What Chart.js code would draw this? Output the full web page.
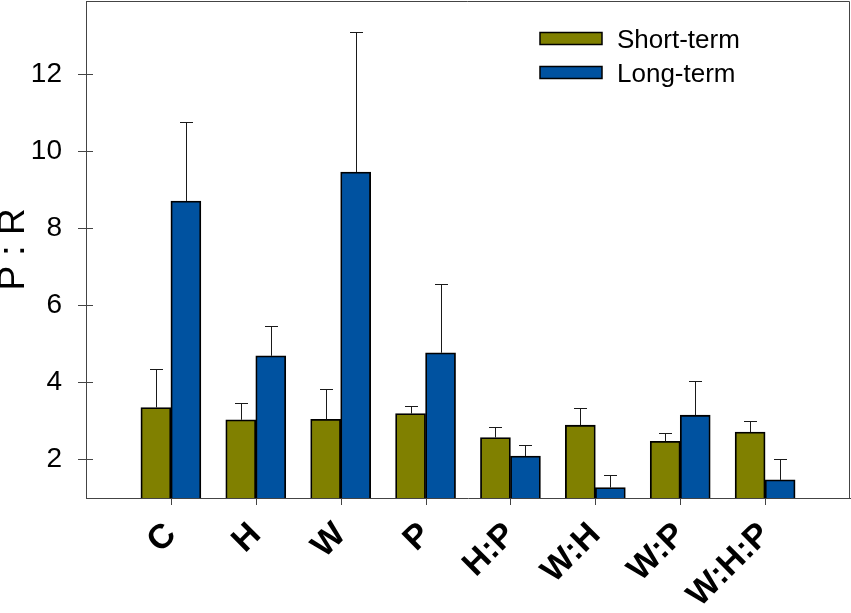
<!DOCTYPE html>
<html>
<head>
<meta charset="utf-8">
<script src="https://cdn.jsdelivr.net/npm/chart.js@4.4.1/dist/chart.umd.min.js"></script>
<style>
  html, body { margin: 0; padding: 0; background: #ffffff; }
  #wrap { width: 851px; height: 613px; }
</style>
</head>
<body>
<div id="wrap"><canvas id="c" width="851" height="613"></canvas></div>
<script>
// ---- data ----
const categories = ['C', 'H', 'W', 'P', 'H:P', 'W:H', 'W:P', 'W:H:P'];
const shortTerm = [3.35, 3.03, 3.04, 3.19, 2.57, 2.89, 2.47, 2.71];
const longTerm  = [8.71, 4.69, 9.46, 4.77, 2.09, 1.27, 3.15, 1.47];
const shortErr  = [1.00, 0.44, 0.78, 0.21, 0.28, 0.45, 0.22, 0.30];
const longErr   = [2.04, 0.78, 3.63, 1.78, 0.28, 0.33, 0.89, 0.54];
const yTicks = [2, 4, 6, 8, 10, 12];
const yMin = 1;
const yMax = 13.9;
const seriesNames = ['Short-term', 'Long-term'];

// padded category axis (one empty slot at each end)
const labels = [''].concat(categories, ['']);
const pad = (arr) => [null].concat(arr, [null]);
const errs = [pad(shortErr), pad(longErr)];

const FONT = "'Liberation Sans', Arial, Helvetica, sans-serif";
const AXIS = '#444444';

const frameAndTicks = {
  id: 'frameAndTicks',
  afterDraw(chart) {
    const {ctx, chartArea: a, scales: {x, y}} = chart;
    ctx.save();
    ctx.strokeStyle = AXIS;
    ctx.lineWidth = 1;
    // top and right frame lines
    ctx.beginPath();
    ctx.moveTo(a.left, a.top + 0.5);
    ctx.lineTo(a.right - 0.5, a.top + 0.5);
    ctx.lineTo(a.right - 0.5, a.bottom);
    ctx.stroke();
    // inner part of y tick marks
    y.ticks.forEach(t => {
      const py = Math.round(y.getPixelForValue(t.value)) + 0.5;
      ctx.beginPath();
      ctx.moveTo(a.left, py);
      ctx.lineTo(a.left + 7, py);
      ctx.stroke();
    });
    // x tick marks below the axis at each category
    categories.forEach((lab, k) => {
      const px = Math.round(x.getPixelForValue(k + 1)) + 0.5;
      ctx.beginPath();
      ctx.moveTo(px, a.bottom);
      ctx.lineTo(px, a.bottom + 7);
      ctx.stroke();
    });
    ctx.restore();
  }
};

const errorBars = {
  id: 'errorBars',
  afterDatasetsDraw(chart) {
    const {ctx, scales: {y}} = chart;
    ctx.save();
    ctx.strokeStyle = '#1a1a1a';
    ctx.lineWidth = 1;
    chart.data.datasets.forEach((ds, i) => {
      const meta = chart.getDatasetMeta(i);
      meta.data.forEach((el, j) => {
        const v = ds.data[j];
        const e = errs[i][j];
        if (v == null || e == null) return;
        const x = Math.round(el.x) + 0.5;
        const yTop = Math.round(y.getPixelForValue(v + e)) + 0.5;
        const yBar = el.y;
        ctx.beginPath();
        ctx.moveTo(x, yBar);
        ctx.lineTo(x, yTop);
        ctx.moveTo(x - 6.5, yTop);
        ctx.lineTo(x + 6.5, yTop);
        ctx.stroke();
      });
    });
    ctx.restore();
  }
};

const boxLegend = {
  id: 'boxLegend',
  afterDraw(chart) {
    const {ctx} = chart;
    ctx.save();
    ctx.font = '26px ' + FONT;
    ctx.textBaseline = 'alphabetic';
    ctx.textAlign = 'left';
    chart.data.datasets.forEach((ds, i) => {
      const top = 32.5 + i * 34;
      ctx.fillStyle = ds.backgroundColor;
      ctx.fillRect(540, top, 62, 12);
      ctx.strokeStyle = '#000000';
      ctx.lineWidth = 1.5;
      ctx.strokeRect(540, top, 62, 12);
      ctx.fillStyle = '#000000';
      ctx.fillText(ds.label, 617, top + 15);
    });
    ctx.restore();
  }
};

new Chart(document.getElementById('c'), {
  type: 'bar',
  data: {
    labels: labels,
    datasets: [
      { label: seriesNames[0], data: pad(shortTerm), backgroundColor: '#808000',
        borderColor: '#000000', borderWidth: 1.8, borderSkipped: 'bottom', base: yMin },
      { label: seriesNames[1], data: pad(longTerm), backgroundColor: '#0052A0',
        borderColor: '#000000', borderWidth: 1.8, borderSkipped: 'bottom', base: yMin }
    ]
  },
  options: {
    responsive: false,
    devicePixelRatio: 1,
    animation: false,
    layout: { padding: { top: 1, right: 1, left: 0, bottom: 0 } },
    datasets: { bar: { barThickness: 30 } },
    plugins: {
      legend: { display: false },
      tooltip: { enabled: false },
      title: { display: false }
    },
    scales: {
      x: {
        offset: false,
        grid: {
          offset: false,
          drawOnChartArea: false,
          drawTicks: true,
          tickLength: 7,
          color: 'rgba(0,0,0,0)'
        },
        border: { display: true, color: AXIS, width: 1 },
        ticks: {
          autoSkip: false,
          maxRotation: 45,
          minRotation: 45,
          padding: 10,
          color: '#000000',
          font: { family: FONT, size: 34, weight: 'bold' }
        },
        afterFit(scale) {
          scale.height = 115;
          scale.paddingLeft = 0;
          scale.paddingRight = 0;
        }
      },
      y: {
        min: yMin,
        max: yMax,
        afterBuildTicks(scale) {
          scale.ticks = yTicks.map(v => ({ value: v }));
        },
        grid: {
          drawOnChartArea: false,
          drawTicks: true,
          tickLength: 8,
          color: AXIS
        },
        border: { display: true, color: AXIS, width: 1 },
        ticks: {
          padding: 16,
          color: '#000000',
          font: { family: FONT, size: 28 }
        },
        title: {
          display: true,
          text: 'P : R',
          color: '#000000',
          padding: 0,
          font: { family: FONT, size: 37, lineHeight: 0.76 }
        },
        afterFit(scale) {
          scale.width = 86;
          scale.paddingTop = 0;
          scale.paddingBottom = 0;
        }
      }
    }
  },
  plugins: [errorBars, frameAndTicks, boxLegend]
});
</script>
</body>
</html>
